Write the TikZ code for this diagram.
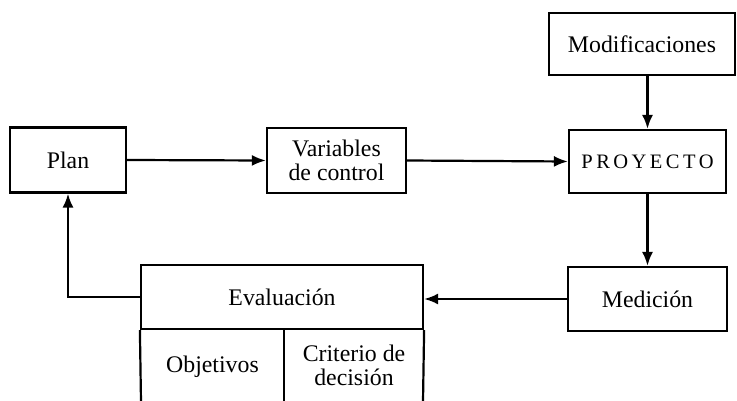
\documentclass[tikz,border=0pt]{standalone}
\usepackage{fontspec}
\setmainfont{Liberation Serif}
\newfontfamily\spacedcaps[LetterSpace=17]{Liberation Serif}
\usetikzlibrary{arrows.meta}
\tikzset{
  box/.style={draw, line width=2.2pt, inner sep=0pt, align=center,
    font=\fontsize{23.8}{24}\selectfont},
  txt/.style={inner sep=0pt, align=center, font=\fontsize{23.8}{24}\selectfont},
  flow/.style={line width=2.2pt, -{Latex[length=14pt,width=11pt]}},
  rule/.style={line width=2.2pt}
}
\begin{document}
\begin{tikzpicture}[x=1pt,y=-1pt]
  \useasboundingbox (0,0) rectangle (737,401);
  % main blocks
  \node[box, minimum width=116pt, minimum height=65pt] (plan) at (68,160) {Plan};
  \node[box, minimum width=139pt, minimum height=65pt] (var) at (336.5,160.5) {Variables\\de control};
  \node[box, minimum width=186pt, minimum height=62pt] (mod) at (642,44) {Modificaciones};
  \node[box, minimum width=157pt, minimum height=63pt] (proj) at (647.5,161.5)
    {\fontsize{20.5}{21}\selectfont\spacedcaps PROYECTO};
  \node[box, minimum width=159pt, minimum height=64pt] (med) at (647.5,299) {Medición};
  % evaluation block with its two lower cells
  \node[box, minimum width=282pt, minimum height=64pt] (eval) at (282,297) {Evaluación};
  \coordinate (cellL) at (141,402);
  \coordinate (cellM) at (284,402);
  \coordinate (cellR) at (423,402);
  \draw[rule] (eval.south west) -- (cellL);
  \draw[rule] (eval.south -| cellM) -- (cellM);
  \draw[rule] (eval.south east) -- (cellR);
  \node[txt] (obj) at (212.5,367) {Objetivos};
  \node[txt] (crit) at (354,365) {Criterio de\\decisión};
  % connectors
  \draw[flow] (plan.east) -- (var.west);
  \draw[flow] (var.east) -- (proj.west);
  \draw[flow] (mod.south -| proj.north) -- (proj.north);
  \draw[flow] (proj.south) -- (med.north);
  \draw[flow] (med.west) -- (med.west -| eval.east);
  \draw[flow] (eval.west) -| (plan.south);
\end{tikzpicture}
\end{document}
